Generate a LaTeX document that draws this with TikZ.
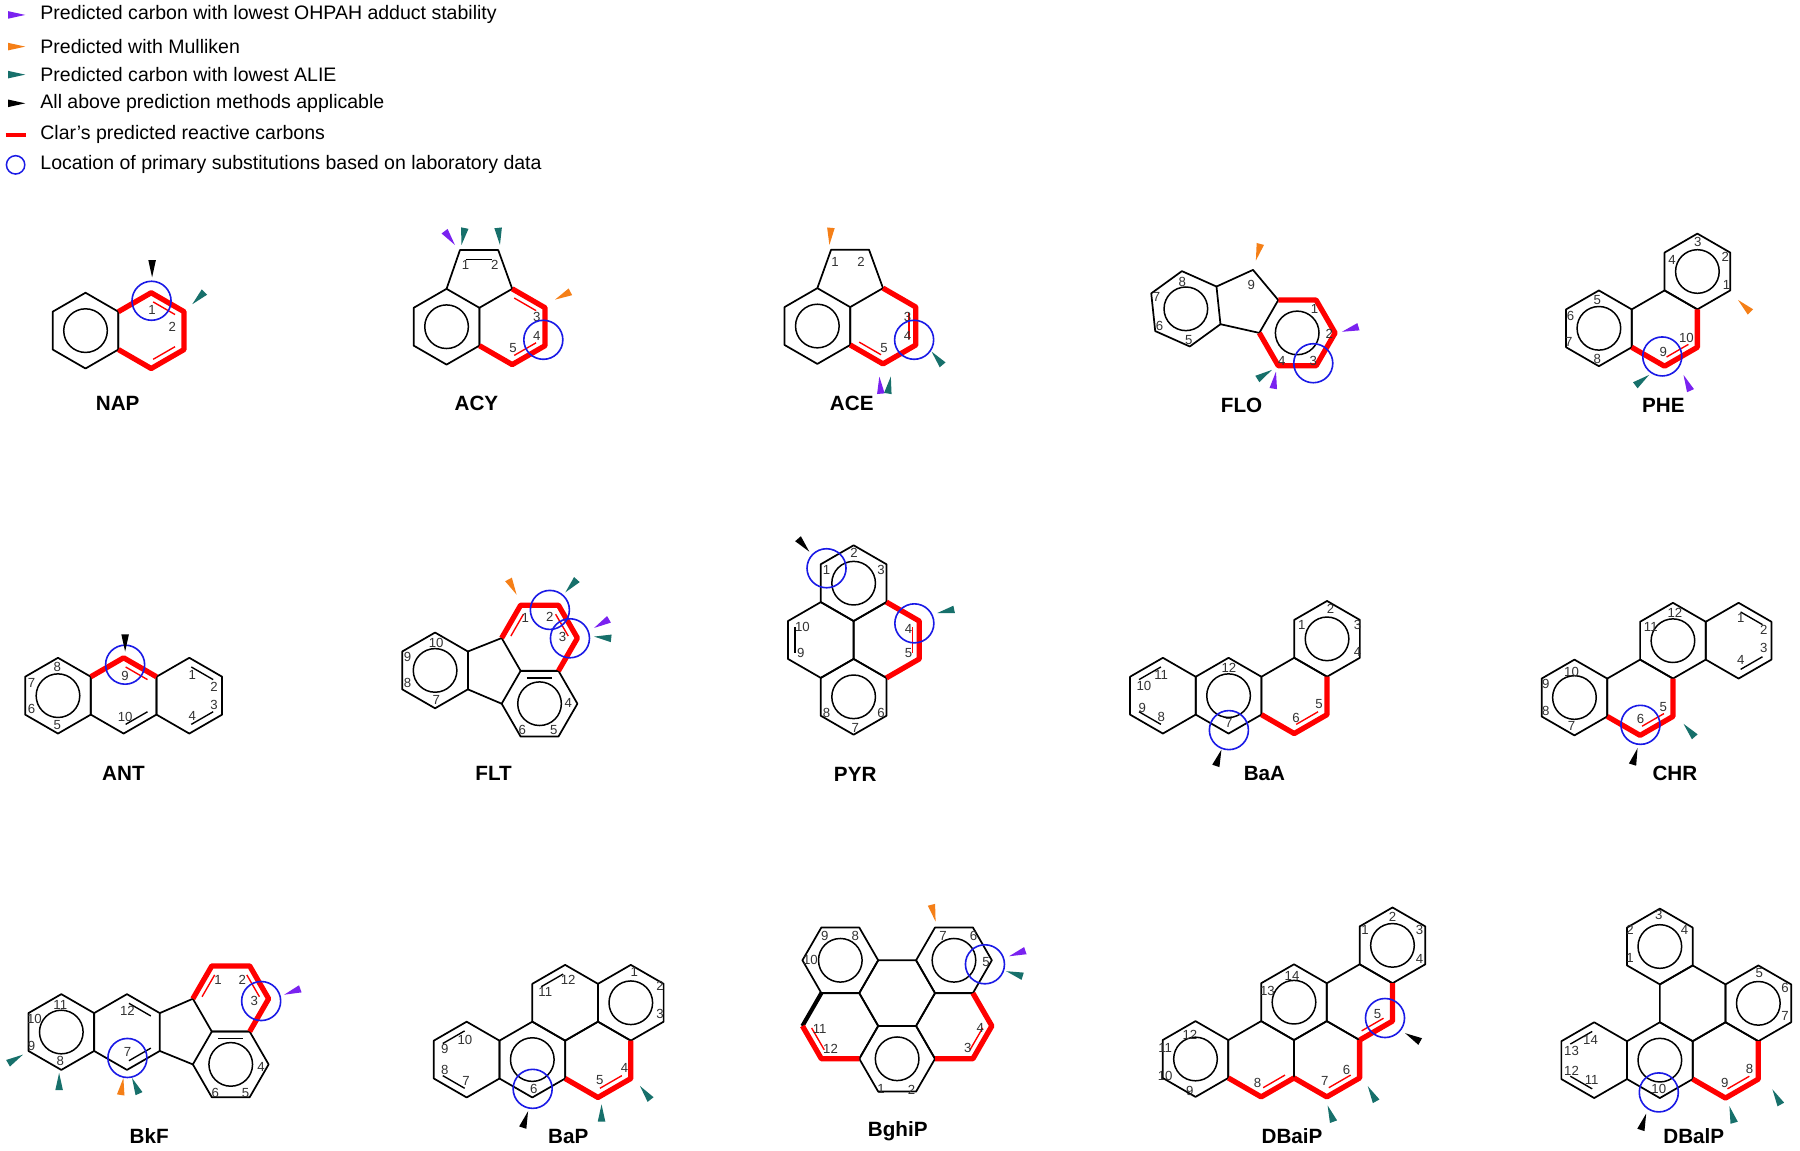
\documentclass[tikz,border=0pt]{standalone}
\usepackage{fontspec}
\setmainfont{Liberation Sans}
\definecolor{cpur}{HTML}{7A22F0}
\definecolor{cora}{HTML}{F57F17}
\definecolor{ctea}{HTML}{17706B}
\definecolor{cblu}{HTML}{1A1AE6}
\definecolor{cred}{HTML}{FF0000}
\tikzset{
 bond/.style={line width=1.5pt,line join=round,black},
 redb/.style={line width=4.6pt,line join=round,cred},
 num/.style={font=\fontsize{11.5}{12}\selectfont,text=black!80,inner sep=0pt},
 molname/.style={font=\fontsize{18}{20}\selectfont\bfseries,inner sep=0pt},
 legtxt/.style={font=\fontsize{17}{19}\selectfont,anchor=west,inner sep=0pt}
}
\newcommand\hexring[3]{\draw[bond] plot[samples at={0,...,5}] ({#1+33*cos(#3-90+60*\x)},{#2+33*sin(#3-90+60*\x)}) -- cycle;}
\newcommand\aro[2]{\draw[line width=1.3pt] (#1,#2) circle (19);}
\newcommand\redp[5]{\draw[redb] plot[samples at={#4,...,#5}] ({#1+33*cos(#3-90+60*\x)},{#2+33*sin(#3-90+60*\x)});}
\newcommand\inl[5]{\draw[#5,line width=1.2pt,shorten <=2pt,shorten >=2pt] ({#1+26*cos(#3-90+60*#4)},{#2+26*sin(#3-90+60*#4)}) -- ({#1+26*cos(#3-30+60*#4)},{#2+26*sin(#3-30+60*#4)});}
\newcommand\mkr[4]{\fill[#1] (#2,#3) -- ++({-15*cos(#4)-3.3*sin(#4)},{-15*sin(#4)+3.3*cos(#4)}) -- ++({6.6*sin(#4)},{-6.6*cos(#4)}) -- cycle;}
\newcommand\bcirc[2]{\draw[cblu,line width=1.4pt] (#1,#2) circle (17);}
\newcommand\numl[3]{\node[num] at (#1,#2) {#3};}
\begin{document}
\begin{tikzpicture}[x=1pt,y=-1pt]
\useasboundingbox[fill=white] (0,0) rectangle (1568,1002);
% legend
\mkr{cpur}{22}{13}{0}
\node[legtxt] (l1) at (35,13) {Predicted carbon with lowest OHPAH adduct stability};
\mkr{cora}{22}{40.6}{0}
\node[legtxt] (l2) at (35,40.6) {Predicted with Mulliken};
\mkr{ctea}{22}{65}{0}
\node[legtxt] (l3) at (35,65) {Predicted carbon with lowest ALIE};
\mkr{black}{22}{90}{0}
\node[legtxt] (l4) at (35,90) {All above prediction methods applicable};
\draw[cred,line width=3.6pt] (5,117.5) -- (23,117.5);
\node[legtxt] (l5) at (35,117.5) {Clar’s predicted reactive carbons};
\draw[cblu,line width=1.3pt] (13.6,143.6) circle (8);
\node[legtxt] (l6) at (35,143.6) {Location of primary substitutions based on laboratory data};

% NAP
\hexring{74.5}{288}{0}\hexring{131.7}{288}{0}\aro{74.5}{288}
\redp{131.7}{288}{0}{5}{10}
\inl{131.7}{288}{0}{0}{cred}\inl{131.7}{288}{0}{2}{cred}
\numl{132.5}{270}{1}\numl{150}{284.5}{2}
\bcirc{132}{262}
\mkr{black}{132.5}{241.6}{90}\mkr{ctea}{167.5}{265}{135}
\node[molname] (nap) at (102.5,351) {NAP};

% ACY
\hexring{389}{284.6}{0}\hexring{446.2}{284.6}{0}\aro{389}{284.6}
\draw[bond] (389,251.6) -- (400.7,217.8) -- (434,217.8) -- (446.2,251.6);
\draw[bond] (406,226) -- (429,226);
\redp{446.2}{284.6}{0}{0}{4}
\inl{446.2}{284.6}{0}{0}{cred}\inl{446.2}{284.6}{0}{2}{cred}
\numl{405.6}{231}{1}\numl{431}{231}{2}\numl{467.5}{276}{3}\numl{467.5}{293}{4}\numl{447}{303}{5}
\bcirc{473.3}{296}
\mkr{cpur}{396.3}{213.4}{53}\mkr{ctea}{402}{213.4}{101}\mkr{ctea}{435.5}{213.4}{84}\mkr{cora}{483.5}{261}{153}
\node[molname] (acy) at (415,351) {ACY};

% ACE
\hexring{712}{284}{0}\hexring{769.2}{284}{0}\aro{712}{284}
\draw[bond] (712,251) -- (724,217.5) -- (757,217.5) -- (769.2,251);
\redp{769.2}{284}{0}{0}{4}
\inl{769.2}{284}{0}{1}{cred}\inl{769.2}{284}{0}{3}{cred}
\numl{727.5}{228}{1}\numl{750}{228}{2}\numl{790.5}{276}{3}\numl{790.5}{293}{4}\numl{770}{303}{5}
\bcirc{796.3}{296}
\mkr{cora}{722.5}{213.4}{95}\mkr{cpur}{766}{328}{265}\mkr{ctea}{776}{328}{280}\mkr{ctea}{811.5}{306.3}{230}
\node[molname] (ace) at (742,351) {ACE};

% FLO
\hexring{1033}{269}{-6}\aro{1033}{269}
\hexring{1130}{290}{30}\aro{1130}{290}
\draw[bond] (1059.7,249.6) -- (1091.5,235.1) -- (1113.5,261.4);
\draw[bond] (1063.1,282.4) -- (1097,290);
\redp{1130}{290}{30}{4}{-1}
\numl{1030}{245.3}{8}\numl{1007.5}{258.4}{7}\numl{1010}{283.9}{6}\numl{1035.5}{296.1}{5}\numl{1090}{248.2}{9}
\numl{1145}{269.4}{1}\numl{1158}{291}{2}\numl{1144}{314}{3}\numl{1116.5}{314}{4}
\bcirc{1144}{316.4}
\mkr{cora}{1094}{227}{105}\mkr{cpur}{1169}{289}{163}\mkr{ctea}{1108}{322.2}{-32}\mkr{cpur}{1111.5}{323.7}{-81}
\node[molname] (flo) at (1081.5,352.7) {FLO};

% PHE
\hexring{1450}{286}{0}\hexring{1392.8}{286}{0}\hexring{1478.6}{236.5}{0}
\aro{1392.8}{286}\aro{1478.6}{236.5}
\redp{1450}{286}{0}{1}{4}\inl{1450}{286}{0}{2}{cred}
\numl{1479}{210.5}{3}\numl{1503}{223.5}{2}\numl{1504}{248.2}{1}\numl{1456.5}{226.5}{4}
\numl{1391.5}{261.3}{5}\numl{1368}{275.2}{6}\numl{1366.5}{297.6}{7}\numl{1391.5}{313}{8}
\numl{1449}{306.3}{9}\numl{1469}{294.7}{10}
\bcirc{1448}{310.5}
\mkr{cora}{1514}{261.3}{-136}\mkr{ctea}{1436.5}{326.6}{-37}\mkr{cpur}{1466.5}{326.6}{-114}
\node[molname] (phe) at (1449,352.7) {PHE};

% ANT
\hexring{50.5}{606}{0}\hexring{107.7}{606}{0}\hexring{164.9}{606}{0}\aro{50.5}{606}
\inl{164.9}{606}{0}{0}{black}\inl{164.9}{606}{0}{2}{black}\inl{107.7}{606}{0}{2}{black}
\redp{107.7}{606}{0}{5}{7}\inl{107.7}{606}{0}{0}{cred}
\numl{50}{580.6}{8}\numl{27.5}{595}{7}\numl{27.5}{617.7}{6}\numl{50}{631.4}{5}
\numl{109}{588.7}{9}\numl{109}{624.7}{10}
\numl{167.5}{588}{1}\numl{186.5}{598}{2}\numl{186.5}{614}{3}\numl{167.5}{624}{4}
\bcirc{109}{579}
\mkr{black}{109}{567.6}{90}
\node[molname] (ant) at (107.5,673.4) {ANT};

% FLT
\hexring{379}{584}{0}\aro{379}{584}
\hexring{470}{555.8}{30}\hexring{470}{613}{30}\aro{470}{613}
\draw[bond] (407.6,567.5) -- (437,555.8);
\draw[bond] (407.6,600.5) -- (437,613);
\inl{470}{613}{30}{5}{black}
\redp{470}{555.8}{30}{4}{8}
\inl{470}{555.8}{30}{4}{cred}\inl{470}{555.8}{30}{0}{cred}
\numl{457.5}{538.6}{1}\numl{479}{537.7}{2}\numl{490}{555}{3}\numl{495}{612.5}{4}\numl{482.5}{636}{5}\numl{455}{636}{6}
\numl{380}{560.4}{10}\numl{355}{572}{9}\numl{355}{595}{8}\numl{380}{609.6}{7}
\bcirc{479}{531.3}\bcirc{496.5}{556}
\mkr{cora}{450}{518}{62}\mkr{ctea}{492.5}{516}{132}\mkr{cpur}{517.5}{547}{150}\mkr{ctea}{517.5}{554.5}{186}
\node[molname] (flt) at (430,673.4) {FLT};

% PYR
\hexring{743.6}{508}{0}\hexring{715}{557.5}{0}\hexring{743.6}{607}{0}\hexring{772.2}{557.5}{0}
\aro{743.6}{508}\aro{743.6}{607}
\inl{715}{557.5}{0}{4}{black}
\redp{772.2}{557.5}{0}{0}{3}\inl{772.2}{557.5}{0}{1}{cred}
\numl{720}{496.5}{1}\numl{744}{482}{2}\numl{767.5}{496.5}{3}\numl{699}{546}{10}\numl{697.5}{569}{9}
\numl{720}{621}{8}\numl{745}{634}{7}\numl{767.5}{621}{6}\numl{791.5}{548}{4}\numl{791.5}{569}{5}
\bcirc{720}{495}\bcirc{796.5}{543}
\mkr{black}{705}{480.6}{49}\mkr{ctea}{816.5}{534}{168}
\node[molname] (pyr) at (745,675) {PYR};

% BaA
\hexring{1013}{606}{0}\hexring{1070.2}{606}{0}\hexring{1127.4}{606}{0}\hexring{1156}{556.5}{0}
\aro{1070.2}{606}\aro{1156}{556.5}
\inl{1013}{606}{0}{5}{black}\inl{1013}{606}{0}{3}{black}
\redp{1127.4}{606}{0}{1}{4}\inl{1127.4}{606}{0}{2}{cred}
\numl{1011.5}{588}{11}\numl{996.5}{597.4}{10}\numl{995}{617}{9}\numl{1011.5}{624.7}{8}
\numl{1070.5}{582}{12}\numl{1070.5}{630}{7}\numl{1129}{625.6}{6}\numl{1149}{613}{5}
\numl{1134}{544.4}{1}\numl{1159}{530}{2}\numl{1182.5}{544.4}{3}\numl{1182.5}{567.6}{4}
\bcirc{1070.5}{636}
\mkr{black}{1064}{653}{-71}
\node[molname] (baa) at (1101.5,673.4) {BaA};

% CHR
\hexring{1371.5}{607.6}{0}\hexring{1428.7}{607.6}{0}\hexring{1457.3}{558.1}{0}\hexring{1514.5}{558.1}{0}
\aro{1371.5}{607.6}\aro{1457.3}{558.1}
\inl{1514.5}{558.1}{0}{0}{black}\inl{1514.5}{558.1}{0}{2}{black}
\redp{1428.7}{607.6}{0}{1}{4}\inl{1428.7}{607.6}{0}{2}{cred}
\numl{1369}{585}{10}\numl{1346.5}{595.7}{9}\numl{1346.5}{619.7}{8}\numl{1369}{632}{7}
\numl{1429}{626.4}{6}\numl{1449}{616.3}{5}\numl{1438}{545.8}{11}\numl{1459}{534.2}{12}
\numl{1516.5}{538.6}{1}\numl{1536.5}{548.7}{2}\numl{1536.5}{564.7}{3}\numl{1516.5}{574.8}{4}
\bcirc{1429}{631.4}
\mkr{black}{1426.5}{651.7}{-73}\mkr{ctea}{1466.5}{630.5}{-131}
\node[molname] (chr) at (1459,674) {CHR};

% BkF
\hexring{53.4}{899}{0}\hexring{110.6}{899}{0}\aro{53.4}{899}
\hexring{201}{870}{30}\hexring{201}{927.2}{30}\aro{201}{927.2}
\draw[bond] (139.2,882.5) -- (168,870);
\draw[bond] (139.2,915.5) -- (168,927.2);
\inl{110.6}{899}{0}{0}{black}\inl{110.6}{899}{0}{2}{black}\inl{201}{927.2}{30}{5}{black}
\redp{201}{870}{30}{4}{8}\inl{201}{870}{30}{4}{cred}\inl{201}{870}{30}{0}{cred}
\numl{52.5}{875}{11}\numl{30}{887.6}{10}\numl{27.5}{911.4}{9}\numl{52.5}{924.5}{8}
\numl{111}{881}{12}\numl{111}{916.6}{7}
\numl{190}{853.4}{1}\numl{211}{853.4}{2}\numl{221.5}{871.7}{3}\numl{227.5}{929}{4}\numl{214}{952}{5}\numl{187.5}{952}{6}
\bcirc{227.5}{872}\bcirc{111}{921.6}
\mkr{cpur}{247.5}{866.5}{160}\mkr{ctea}{20}{918.7}{-30}\mkr{ctea}{51.5}{934.6}{-90}\mkr{cora}{107.5}{939}{-81}\mkr{ctea}{115}{939}{-114}
\node[molname] (bkf) at (130,989.7) {BkF};

% BaP
\hexring{406.5}{923}{0}\hexring{463.7}{923}{0}\hexring{520.9}{923}{0}\hexring{492.3}{873.5}{0}\hexring{549.5}{873.5}{0}
\aro{463.7}{923}\aro{549.5}{873.5}
\inl{406.5}{923}{0}{5}{black}\inl{406.5}{923}{0}{3}{black}\inl{492.3}{873.5}{0}{5}{black}
\redp{520.9}{923}{0}{1}{4}\inl{520.9}{923}{0}{2}{cred}
\numl{405}{905.6}{10}\numl{387.5}{913.4}{9}\numl{387.5}{932.3}{8}\numl{406}{942}{7}
\numl{465}{948.5}{6}\numl{522.5}{941}{5}\numl{544}{930.3}{4}\numl{475}{864.4}{11}\numl{495}{854}{12}
\numl{552.5}{847}{1}\numl{575}{859.2}{2}\numl{575}{883}{3}
\bcirc{464}{948.5}
\mkr{black}{460}{968}{-72}\mkr{ctea}{524}{962}{-90}\mkr{ctea}{557.5}{946}{-128}
\node[molname] (bap) at (495,989.7) {BaP};

% BghiP
\hexring{781.5}{865.1}{30}\hexring{732}{836.5}{30}\hexring{831}{836.5}{30}
\hexring{732}{893.7}{30}\hexring{781.5}{922.3}{30}\hexring{831}{893.7}{30}
\aro{732}{836.5}\aro{831}{836.5}\aro{781.5}{922.3}
\draw[bond,line width=3.6pt] (715.5,865.1) -- (699,893.7);
\redp{732}{893.7}{30}{4}{2}\redp{831}{893.7}{30}{0}{3}
\inl{732}{893.7}{30}{3}{cred}\inl{831}{893.7}{30}{1}{cred}
\numl{718.5}{815}{9}\numl{745}{815}{8}\numl{706}{836.6}{10}\numl{821.5}{815}{7}\numl{848}{815}{6}\numl{859}{838.3}{5}
\numl{714}{896.3}{11}\numl{723.5}{913.7}{12}\numl{854}{895.5}{4}\numl{843}{913}{3}\numl{767.5}{949}{1}\numl{794}{949}{2}
\bcirc{858}{840}
\mkr{cora}{815}{802.7}{76}\mkr{cpur}{879}{833}{161}\mkr{ctea}{876.5}{846}{197}
\node[molname] (bghip) at (782,985) {BghiP};

% DBaiP
\hexring{1184.4}{873}{0}\hexring{1213}{823.5}{0}\hexring{1127.2}{873}{0}\hexring{1155.8}{922.5}{0}\hexring{1098.6}{922.5}{0}\hexring{1041.4}{922.5}{0}
\aro{1213}{823.5}\aro{1127.2}{873}\aro{1041.4}{922.5}
\redp{1184.4}{873}{0}{1}{3}\redp{1155.8}{922.5}{0}{1}{4}\redp{1098.6}{922.5}{0}{2}{4}
\inl{1184.4}{873}{0}{2}{cred}\inl{1155.8}{922.5}{0}{2}{cred}\inl{1098.6}{922.5}{0}{2}{cred}
\numl{1189}{810}{1}\numl{1213}{798.3}{2}\numl{1236.5}{810}{3}\numl{1236.5}{835.5}{4}\numl{1200}{883}{5}
\numl{1173}{932.3}{6}\numl{1154}{942}{7}\numl{1095.5}{943.4}{8}\numl{1104}{863.6}{13}\numl{1125.5}{850.5}{14}
\numl{1036.5}{901.3}{12}\numl{1015}{913}{11}\numl{1015}{937}{10}\numl{1036.5}{950.6}{9}
\bcirc{1206.5}{886.8}
\mkr{black}{1224}{900}{-151}\mkr{ctea}{1191.5}{946.2}{-119}\mkr{ctea}{1156.5}{963}{-110}
\node[molname] (dbaip) at (1125.5,989.7) {DBaiP};

% DBalP
\hexring{1474.5}{874}{0}\hexring{1445.9}{824.5}{0}\hexring{1531.7}{874}{0}\hexring{1445.9}{923.5}{0}\hexring{1503.1}{923.5}{0}\hexring{1388.7}{923.5}{0}
\aro{1445.9}{824.5}\aro{1531.7}{874}\aro{1445.9}{923.5}
\inl{1388.7}{923.5}{0}{5}{black}\inl{1388.7}{923.5}{0}{3}{black}
\redp{1503.1}{923.5}{0}{1}{4}\inl{1503.1}{923.5}{0}{2}{cred}
\numl{1445}{797}{3}\numl{1420}{810}{2}\numl{1420}{834.6}{1}\numl{1467.5}{810}{4}
\numl{1532.5}{847.6}{5}\numl{1555}{860.7}{6}\numl{1555}{885.3}{7}\numl{1502.5}{943.4}{9}\numl{1524}{931}{8}
\numl{1445}{948.7}{10}\numl{1385.5}{906.3}{14}\numl{1369}{915.9}{13}\numl{1369}{933}{12}\numl{1386.5}{941}{11}
\bcirc{1445}{951.6}
\mkr{black}{1434}{970}{-72}\mkr{ctea}{1506.5}{963.6}{-106}\mkr{ctea}{1544}{949}{-119}
\node[molname] (dbalp) at (1475.5,989.7) {DBalP};
\end{tikzpicture}
\end{document}
